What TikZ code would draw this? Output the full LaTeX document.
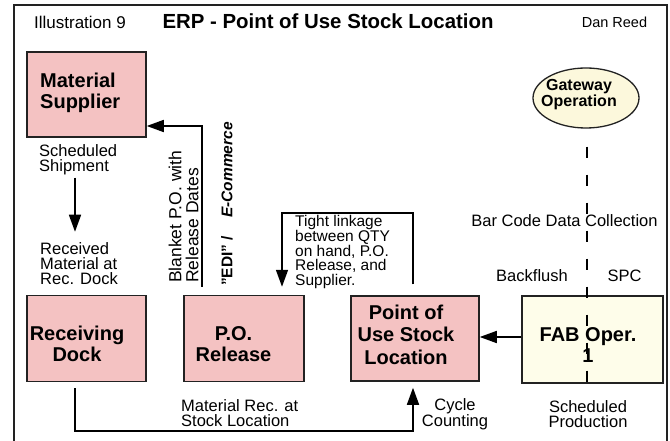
\documentclass[tikz,border=0pt]{standalone}
\usepackage{fontspec}
\setmainfont{Liberation Sans}
\usetikzlibrary{arrows.meta,shapes.geometric}
\definecolor{boxpink}{HTML}{F4C2C2}
\definecolor{fabyel}{HTML}{FEFDEA}
\definecolor{gwyel}{HTML}{FCF8DC}
\definecolor{edge}{HTML}{222222}
\begin{document}
\begin{tikzpicture}[x=1pt,y=-1pt,
  pbox/.style={draw=edge, line width=1.5pt, fill=boxpink, inner sep=0pt},
  ybox/.style={draw=edge, line width=1.5pt, fill=fabyel, inner sep=0pt},
  boxtxt/.style={font=\fontsize{20}{21}\selectfont\bfseries, inner sep=0pt},
  lbl/.style={font=\fontsize{16.5}{15}\selectfont, inner sep=0pt},
  conn/.style={draw=black, line width=1.6pt},
  arr/.style={conn, -{Triangle[length=17pt,width=12pt]}},
  gateline/.style={draw=black, line width=1.5pt, dash pattern=on 11pt off 17pt}]
\useasboundingbox (0,0) rectangle (670,441);
\fill[white] (0,0) rectangle (670,441);
% frame
\draw[line width=1.2pt, draw=edge] (14,441) -- (14,5) -- (667,5) -- (667,441);
% header
\node[lbl, font=\fontsize{17}{18}\selectfont] (ill) at (80,22) {Illustration 9};
\node[inner sep=0pt, font=\fontsize{20.4}{22}\selectfont\bfseries] (title) at (328,21.5) {ERP - Point of Use Stock Location};
\node[inner sep=0pt, font=\fontsize{14.5}{16}\selectfont] (dan) at (614.5,22) {Dan Reed};
% boxes
\node[pbox, minimum width=119pt, minimum height=85pt] (ms) at (86.5,94.5) {};
\node[pbox, minimum width=119pt, minimum height=86pt] (rd) at (86.5,338.5) {};
\node[pbox, minimum width=120pt, minimum height=86pt] (po) at (244,338.5) {};
\node[pbox, minimum width=128pt, minimum height=85pt] (pou) at (415,338.5) {};
\node[ybox, minimum width=141pt, minimum height=87pt] (fab) at (592.5,339.5) {};
\node[draw=edge, line width=1.3pt, fill=gwyel, ellipse, minimum width=106pt, minimum height=60pt, inner sep=0pt] (gw) at (586,98) {};
% box texts
\node[boxtxt, align=left, anchor=west] (mst) at (40,92.5) {Material\\Supplier};
\node[boxtxt, align=center] (rdt) at (77,344) {Receiving\\Dock};
\node[boxtxt, align=center] (pot) at (233.5,344) {P.O.\\Release};
\node[boxtxt, align=center, font=\fontsize{20}{22.5}\selectfont\bfseries] (pout) at (406,334.5) {Point of\\Use Stock\\Location};
\node[boxtxt, align=center] (fabt) at (588,345) {FAB Oper.\\1};
\node[inner sep=0pt, align=center, font=\fontsize{16}{14}\selectfont\bfseries] (gwt) at (579,95) {Gateway\\Operation};
% dashed gateway line
\coordinate (dbot) at (587,396);
\draw[gateline] ([xshift=1pt,yshift=-18pt]gw.south) -- (dbot);
% labels
\node[lbl, align=left, anchor=west] (ss) at (39,159.5) {Scheduled\\Shipment};
\node[lbl, align=left, anchor=west] (recv) at (40,264) {Received\\Material at\\Rec. Dock};
\node[lbl, align=left, anchor=west] (mra) at (181,413.5) {Material Rec. at\\Stock Location};
\node[lbl, align=center] (cc) at (455,414) {Cycle\\Counting};
\node[lbl, align=center] (spd) at (588,414) {Scheduled\\Production};
\node[lbl] (bf) at (532,276) {Backflush};
\node[lbl] (spc) at (624.5,276) {SPC};
\node[lbl] (bc) at (564.5,221) {Bar Code Data Collection};
\node[inner sep=0pt, align=left, anchor=west, font=\fontsize{15.5}{14.7}\selectfont] (tl) at (295,252) {Tight linkage\\between QTY\\on hand, P.O.\\Release, and\\Supplier.};
\node[inner sep=0pt, align=left, anchor=west, rotate=90, font=\fontsize{17.5}{17}\selectfont] (bpo) at (183.5,283) {Blanket P.O. with\\Release Dates};
\node[inner sep=0pt, anchor=west, rotate=90, font=\fontsize{15.5}{17}\selectfont\bfseries] (edi) at (227,286) {"EDI" /\hspace{18pt}\itshape E-Commerce};
% connectors
\draw[arr] ([xshift=-11.5pt,yshift=-40pt]ms.south) -- ([xshift=-11.5pt,yshift=63pt]rd.north);
\draw[arr] ([xshift=-42pt,yshift=8pt]po.north) |- ([yshift=-31.5pt]ms.east);
\coordinate (tlc) at (350,213);
\draw[arr] ([xshift=-2pt,yshift=11pt]pou.north) |- (tlc) -| ([xshift=38pt,yshift=8pt]po.north);
\coordinate (arrY) at (0,337);
\draw[arr] (fab.west |- arrY) -- (pou.east |- arrY);
\coordinate (bend) at (413,431);
\draw[arr] ([xshift=-11.5pt,yshift=-6pt]rd.south) |- (bend) -- ([xshift=-2pt,yshift=-6pt]pou.south);
\end{tikzpicture}
\end{document}
